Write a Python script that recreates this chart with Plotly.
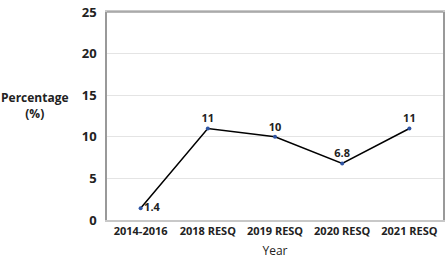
import plotly.graph_objects as go

categories = ["2014-2016", "2018 RESQ", "2019 RESQ", "2020 RESQ", "2021 RESQ"]
values = [1.4, 11, 10, 6.8, 11]
labels = ["1.4", "11", "10", "6.8", "11"]
positions = ["middle right", "top center", "top center", "top center", "top center"]

fig = go.Figure()
fig.add_trace(go.Scatter(
    x=categories, y=values, mode="lines+markers+text",
    line=dict(color="black", width=1.5),
    marker=dict(color="#2f55a4", size=4),
    text=labels, textposition=positions,
    textfont=dict(family="Open Sans", size=11, color="#222", weight="bold"),
    cliponaxis=False, showlegend=False,
))

fig.update_layout(
    width=447, height=265,
    margin=dict(l=107, r=2, t=12, b=45),
    paper_bgcolor="white", plot_bgcolor="white",
    font=dict(family="Open Sans", color="#222"),
    xaxis=dict(
        type="category", range=[-0.5, 4.5],
        showline=True, mirror=True, linecolor="#c8c8c8", linewidth=1.5,
        showgrid=False, ticks="",
        tickfont=dict(family="Open Sans", size=11, weight="bold"),
        title=dict(text="Year", font=dict(family="Open Sans", size=12), standoff=10),
    ),
    yaxis=dict(
        range=[0, 25], dtick=5,
        showline=True, mirror=True, linecolor="#999", linewidth=1.5,
        showgrid=True, gridcolor="#e4e4e4", gridwidth=1,
        zeroline=False, ticks="outside", ticklen=6, tickcolor="white",
        tickfont=dict(family="Open Sans", size=13, weight="bold"),
    ),
    shapes=[dict(type="line", xref="paper", yref="paper", x0=0, x1=1, y0=1, y1=1,
                 line=dict(color="#a0a0a0", width=1.5))],
    annotations=[dict(
        text="Percentage<br>(%)", xref="paper", yref="paper",
        x=(35 - 107) / 338, y=(220 - 106) / 208,
        xanchor="center", yanchor="middle",
        showarrow=False, font=dict(family="Open Sans", size=12, weight="bold"),
    )],
)
fig.write_html("out.html", config={"displayModeBar": False})
with open("out.html", encoding="utf-8") as f:
    html = f.read()
html = html.replace("<head>", "<head><style>html,body{margin:0;padding:0;overflow:hidden}</style>", 1)
with open("out.html", "w", encoding="utf-8") as f:
    f.write(html)
